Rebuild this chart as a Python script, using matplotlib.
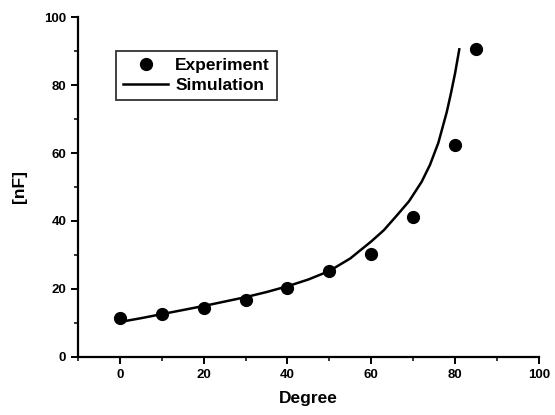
import numpy as np
import matplotlib.pyplot as plt
from matplotlib.ticker import MultipleLocator

deg_exp = [0, 10, 20, 30, 40, 50, 60, 70, 80, 85]
nf_exp = [11.5, 12.5, 14.5, 16.8, 20.3, 25.4, 30.3, 41.3, 62.3, 90.5]

deg_sim = [0, 5, 10, 15, 20, 25, 30, 35, 40, 45, 50, 55, 60, 63, 66, 69, 72, 74, 76, 78, 79, 80, 81]
nf_sim = [10.3, 11.4, 12.6, 13.8, 15.0, 16.3, 17.6, 19.1, 20.8, 22.8, 25.3, 29.0, 34.0, 37.3, 41.5, 45.8, 51.5, 56.5, 63.0, 72.0, 77.5, 83.5, 90.5]

plt.rcParams['font.family'] = ['Liberation Sans', 'DejaVu Sans']
plt.rcParams['font.weight'] = 'bold'

fig = plt.figure(figsize=(5.55, 4.15), dpi=100)
ax = fig.add_axes([0.1405, 0.1398, 0.8305, 0.8192])

ax.plot(deg_exp, nf_exp, 'o', color='black', markersize=8.5, label='Experiment')
ax.plot(deg_sim, nf_sim, '-', color='black', linewidth=1.8, label='Simulation')

ax.set_xlim(-10, 100)
ax.set_ylim(0, 100)
ax.spines['right'].set_visible(False)
ax.spines['top'].set_visible(False)
ax.spines['left'].set_linewidth(1.6)
ax.spines['bottom'].set_linewidth(1.6)

ax.xaxis.set_major_locator(MultipleLocator(20))
ax.xaxis.set_minor_locator(MultipleLocator(10))
ax.yaxis.set_major_locator(MultipleLocator(20))
ax.yaxis.set_minor_locator(MultipleLocator(10))
ax.tick_params(which='major', length=5, width=1.4, labelsize=9.5, direction='out')
ax.tick_params(which='minor', length=3, width=1.1, direction='out')

ax.set_xlabel('Degree', fontsize=12.5, fontweight='bold', labelpad=7)
ax.set_ylabel('[nF]', fontsize=12.5, fontweight='bold', labelpad=12)

leg = ax.legend(loc='upper left', bbox_to_anchor=(0.083, 0.9), fontsize=12.5,
                frameon=True, fancybox=False, edgecolor='black', handlelength=2.6,
                handletextpad=0.4, borderpad=0.4, labelspacing=0.3, borderaxespad=0)
leg.get_frame().set_linewidth(1.3)

plt.savefig('out.png', dpi=100)
